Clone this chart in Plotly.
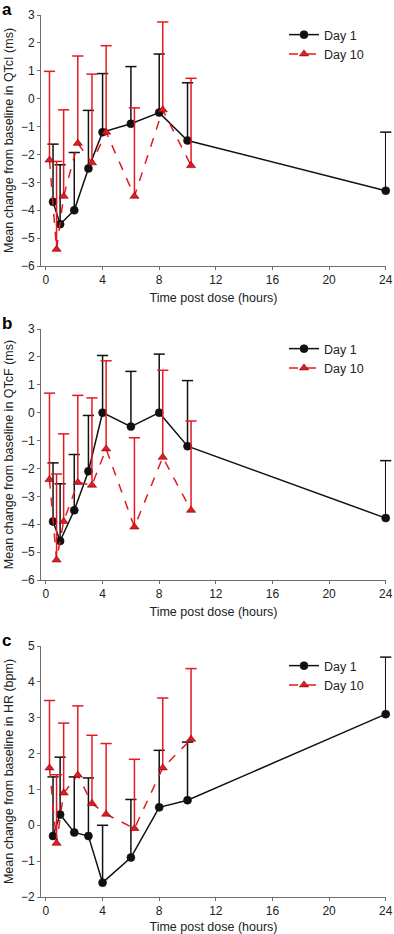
import plotly.graph_objects as go

# ---------------- data ----------------
day1_hours = [0.5, 1, 2, 3, 4, 6, 8, 10, 24]
day10_hours = [0.25, 0.75, 1.25, 2.25, 3.25, 4.25, 6.25, 8.25, 10.25]

qtci_day1 = [-3.7, -4.5, -4.0, -2.5, -1.2, -0.9, -0.5, -1.5, -3.3]
qtci_day1_upper = [-1.63, -2.37, -1.93, -0.42, 0.9, 1.15, 1.6, 0.57, -1.2]
qtci_day10 = [-2.2, -5.4, -3.5, -1.6, -2.3, -1.2, -3.5, -0.4, -2.4]
qtci_day10_upper = [0.98, -2.25, -0.4, 1.53, 0.88, 1.9, -0.33, 2.75, 0.73]

qtcf_day1 = [-3.9, -4.6, -3.5, -2.1, 0.0, -0.5, 0.0, -1.2, -3.78]
qtcf_day1_upper = [-1.8, -2.55, -1.5, -0.1, 2.05, 1.48, 2.1, 1.15, -1.72]
qtcf_day10 = [-2.4, -5.28, -3.9, -2.5, -2.6, -1.3, -4.1, -1.6, -3.5]
qtcf_day10_upper = [0.7, -2.2, -0.76, 0.62, 0.53, 1.86, -0.9, 1.52, -0.3]

hr_day1 = [-0.3, 0.3, -0.2, -0.3, -1.6, -0.9, 0.5, 0.7, 3.1]
hr_day1_upper = [1.35, 1.9, 1.35, 1.32, 0.0, 0.72, 2.09, 2.32, 4.69]
hr_day10 = [1.6, -0.5, 0.9, 1.4, 0.61, 0.31, -0.09, 1.6, 2.4]
hr_day10_upper = [3.48, 1.41, 2.85, 3.33, 2.51, 2.28, 1.84, 3.55, 4.37]

x_ticks = [0, 4, 8, 12, 16, 20, 24]
panel_letters = ["a", "b", "c"]
y_titles = ["Mean change from baseline in QTcI (ms)",
            "Mean change from baseline in QTcF (ms)",
            "Mean change from baseline in HR (bpm)"]
y_ranges = [[-6, 3], [-6, 3], [-2, 5]]
x_title = "Time post dose (hours)"
series_names = ["Day 1", "Day 10"]

panels = [
    (qtci_day1, qtci_day1_upper, qtci_day10, qtci_day10_upper),
    (qtcf_day1, qtcf_day1_upper, qtcf_day10, qtcf_day10_upper),
    (hr_day1, hr_day1_upper, hr_day10, hr_day10_upper),
]

# ---------------- layout geometry ----------------
W, H = 394, 934
FONT = "Liberation Sans, Arial, sans-serif"
BLACK = "#111111"
RED = "#e31a22"
AXIS = "#6e6e6e"
plot_left, plot_right = 41, 386
tops = [15, 329, 646]
ph = 251

fig = go.Figure()

for i, (d1, d1u, d10, d10u) in enumerate(panels):
    n = "" if i == 0 else str(i + 1)
    xa, ya = "x" + n, "y" + n
    leg = "legend" + n
    series = [
        (day1_hours, d1, d1u, BLACK, "solid", "circle", 8, series_names[0]),
        (day10_hours, d10, d10u, RED, "dash", "triangle-up", 8, series_names[1]),
    ]
    for xs, ys, ups, col, dash, sym, msz, name in series:
        diffs = [u - v for u, v in zip(ups, ys)]
        # error stems
        fig.add_trace(go.Scatter(
            x=xs, y=ys, mode="markers", xaxis=xa, yaxis=ya, cliponaxis=False,
            marker=dict(size=1, color="rgba(0,0,0,0)"),
            error_y=dict(type="data", symmetric=False, array=diffs,
                         arrayminus=[0] * len(ys), color=col, thickness=1.5, width=0),
            showlegend=False, hoverinfo="skip"))
        # caps
        fig.add_trace(go.Scatter(
            x=xs, y=ups, mode="markers", xaxis=xa, yaxis=ya, cliponaxis=False,
            marker=dict(symbol="line-ew", size=8, line=dict(color=col, width=1.5)),
            showlegend=False, hoverinfo="skip"))
        # line + markers
        fig.add_trace(go.Scatter(
            x=xs, y=ys, mode="lines+markers", xaxis=xa, yaxis=ya, name=name,
            cliponaxis=False,
            line=dict(color=col, width=1.5, dash=dash),
            marker=dict(symbol=sym, size=msz, color=col,
                        line=dict(color="#7a0000" if col == RED else BLACK, width=0.6)),
            legend=leg, showlegend=True))

    top = tops[i]
    y0 = (H - (top + ph)) / H
    y1 = (H - top) / H
    axis_common = dict(showline=True, linecolor=AXIS, linewidth=1, ticks="outside",
                       ticklen=3, tickcolor=AXIS, showgrid=False, zeroline=False,
                       tickfont=dict(family=FONT, size=12, color="#222"))
    fig.update_layout(**{
        "xaxis" + n: dict(domain=[plot_left / W, plot_right / W], range=[-0.35, 24.02],
                          tickvals=x_ticks, anchor=ya,
                          title=dict(text=x_title, font=dict(family=FONT, size=12.5, color="#222"),
                                     standoff=6),
                          **axis_common),
        "yaxis" + n: dict(domain=[y0, y1], range=y_ranges[i], dtick=1, anchor=xa,
                          title=dict(text=y_titles[i], font=dict(family=FONT, size=12.5, color="#222"),
                                     standoff=4),
                          **axis_common),
        leg: dict(x=284 / W, y=(H - top - 5) / H, xanchor="left", yanchor="top",
                  bgcolor="rgba(0,0,0,0)", font=dict(family=FONT, size=12.5, color="#222"),
                  tracegroupgap=0, itemwidth=30),
    })
    fig.add_annotation(text="<b>%s</b>" % panel_letters[i], xref="paper", yref="paper",
                       x=0 / W, y=(H - top + 17) / H, xanchor="left", yanchor="top",
                       showarrow=False, font=dict(family=FONT, size=17, color="#000"))

fig.update_layout(width=W, height=H, margin=dict(l=0, r=0, t=0, b=0, autoexpand=False),
                  paper_bgcolor="white", plot_bgcolor="white")

fig.write_html("out.html", config={"displayModeBar": False},
               post_script="document.body.style.margin='0';document.body.style.overflow='hidden';")
